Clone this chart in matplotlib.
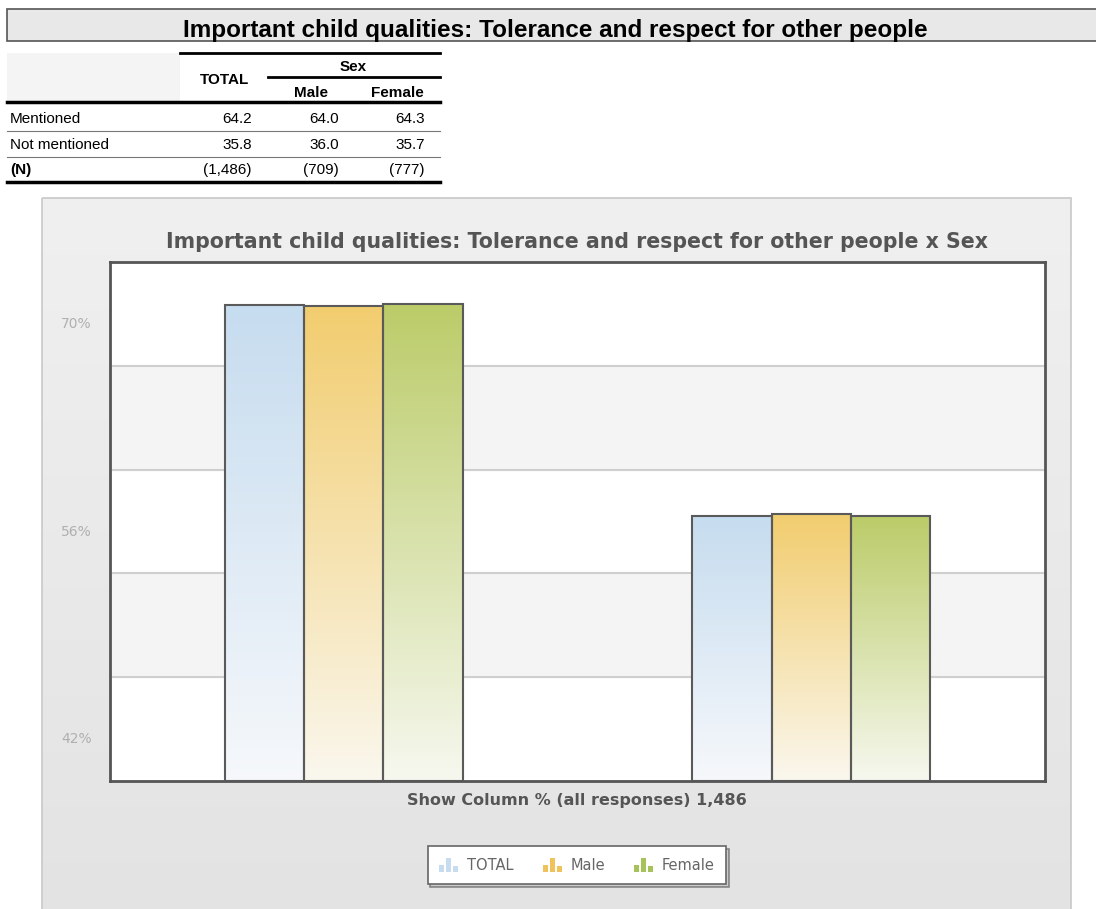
import numpy as np
import matplotlib.pyplot as plt
from matplotlib.patches import Rectangle, Patch
from matplotlib.colors import LinearSegmentedColormap
from matplotlib.legend_handler import HandlerBase

plt.rcParams['font.family'] = ['DejaVu Sans']

# table / chart data
title = 'Important child qualities: Tolerance and respect for other people'
chart_title = title + ' x Sex'
row_labels = ['Mentioned', 'Not mentioned', '(N)']
col_labels = ['TOTAL', 'Male', 'Female']
total = [64.2, 35.8]
male = [64.0, 36.0]
female = [64.3, 35.7]
n_counts = ['(1,486)', '(709)', '(777)']

categories = ['Mentioned', 'Not mentioned']
series_names = ['TOTAL', 'Male', 'Female']
series_vals = [total, male, female]
top_colors = ['#c6dcef', '#f2cd6f', '#bbcc69']
bottom_colors = ['#f6f8fb', '#faf7ee', '#f6f8ef']
icon_colors = ['#c8dcf0', '#f0c25c', '#a6c35a']
grid_levels = [14, 28, 42, 56]
ylabel_pos = [61.9, 33.8, 5.8]
ylabel_text = ['70%', '56%', '42%']
xlabel = 'Show Column % (all responses) 1,486'


class BarIconHandler(HandlerBase):
    # little 3-bar chart icon, like the original legend
    def create_artists(self, legend, orig_handle, xdescent, ydescent, width, height, fontsize, trans):
        color = orig_handle.get_facecolor()
        bw = width / 3.8
        arts = []
        for k, h in enumerate([0.5, 1.0, 0.4]):
            arts.append(Rectangle((-xdescent + k * bw * 1.4, -ydescent), bw, height * h,
                                  facecolor=color, edgecolor='none', transform=trans))
        return arts


fig = plt.figure(figsize=(10.96, 9.09), dpi=100)
fig.patch.set_facecolor('white')

# full-figure overlay in pixel coords for the table and panel
bg = fig.add_axes([0, 0, 1, 1], zorder=0)
bg.set_xlim(0, 1096)
bg.set_ylim(909, 0)
bg.axis('off')

# title bar
bg.add_patch(Rectangle((7, 9), 1095, 32, facecolor='#e8e8e8', edgecolor='#555555', lw=1.2))
bg.text(555, 30, title, ha='center', va='center', fontsize=17.5, fontweight='bold',
        family=['Liberation Sans', 'DejaVu Sans'])

# crosstab table
tfont = ['Liberation Sans Narrow', 'Liberation Sans', 'DejaVu Sans']
bg.add_patch(Rectangle((7, 53), 173, 49, facecolor='#f4f4f4', edgecolor='none'))
bg.plot([180, 440], [53, 53], color='black', lw=2)
bg.plot([268, 440], [77, 77], color='black', lw=2)
bg.plot([7, 440], [102, 102], color='black', lw=2.5)
bg.plot([7, 440], [131, 131], color='#777777', lw=0.8)
bg.plot([7, 440], [157, 157], color='#777777', lw=0.8)
bg.plot([7, 440], [182, 182], color='black', lw=2.5)
bg.text(224, 80, 'TOTAL', ha='center', va='center', fontsize=11, fontweight='bold', family=tfont)
bg.text(353, 67, 'Sex', ha='center', va='center', fontsize=11, fontweight='bold', family=tfont)
bg.text(311, 93, 'Male', ha='center', va='center', fontsize=11, fontweight='bold', family=tfont)
bg.text(397, 93, 'Female', ha='center', va='center', fontsize=11, fontweight='bold', family=tfont)
row_y = [119, 145, 170]
col_x = [252, 339, 425]
for r, lab in enumerate(row_labels):
    bg.text(10, row_y[r], lab, ha='left', va='center', fontsize=11, family=tfont,
            fontweight='bold' if lab == '(N)' else 'normal')
for c, vals in enumerate(series_vals):
    for r, v in enumerate(vals):
        bg.text(col_x[c], row_y[r], f'{v:.1f}', ha='right', va='center', fontsize=11, family=tfont)
    bg.text(col_x[c], row_y[2], n_counts[c], ha='right', va='center', fontsize=11, family=tfont)

# chart panel with soft vertical gradient
panel_cmap = LinearSegmentedColormap.from_list('panel', ['#f0f0f0', '#e3e3e3'])
bg.imshow(np.linspace(0, 1, 256).reshape(-1, 1), extent=(42, 1071, 918, 198), origin='upper',
          aspect='auto', cmap=panel_cmap, zorder=0)
bg.add_patch(Rectangle((42, 198), 1029, 720, facecolor='none', edgecolor='#c8c8c8', lw=1.2, zorder=1))
bg.set_xlim(0, 1096)
bg.set_ylim(909, 0)
bg.text(577, 242, chart_title, ha='center', va='center', fontsize=14.8, fontweight='bold', color='#555555')
bg.text(577, 800, xlabel, ha='center', va='center', fontsize=11.5, fontweight='bold', color='#555555')

# bar chart
ax = fig.add_axes([110 / 1096, 1 - 781 / 909, 935 / 1096, 519 / 909], zorder=1)
ax.set_facecolor('white')
ymax = 70
for k, lo in enumerate([0] + grid_levels):
    if k % 2 == 1:
        ax.axhspan(lo, lo + 14, color='#f4f4f4', zorder=0)
for g in grid_levels:
    ax.axhline(g, color='#cfcfcf', lw=1.5, zorder=1)

x = np.arange(len(categories))
width = 0.17
grad = np.linspace(0, 1, 256).reshape(-1, 1)
for i, vals in enumerate(series_vals):
    cmap = LinearSegmentedColormap.from_list(series_names[i], [bottom_colors[i], top_colors[i]])
    for j, v in enumerate(vals):
        x0 = x[j] + (i - 1) * width - width / 2
        ax.imshow(grad, extent=(x0, x0 + width, 0, v), origin='lower', aspect='auto',
                  cmap=cmap, zorder=2, interpolation='bicubic')
        ax.add_patch(Rectangle((x0, 0), width, v, facecolor='none', edgecolor='#5a5a5a', lw=1.5, zorder=3))

ax.set_xlim(-0.5, 1.5)
ax.set_ylim(0, ymax)
ax.set_xticks([])
ax.set_yticks(ylabel_pos)
ax.set_yticklabels(ylabel_text, color='#b0b0b0', fontsize=10)
ax.tick_params(axis='y', length=0, pad=13)
for s in ax.spines.values():
    s.set_color('#555555')
    s.set_linewidth(2)

handles = [Patch(facecolor=icon_colors[i], edgecolor='none', label=series_names[i]) for i in range(3)]
leg = ax.legend(handles=handles, loc='center', bbox_to_anchor=(577 / 1096, 1 - 865 / 909),
                bbox_transform=fig.transFigure, ncol=3, frameon=True, fancybox=False,
                shadow={'facecolor': '#bdbdbd', 'alpha': 0.6},
                fontsize=10.5, handlelength=1.3, handleheight=1.1, columnspacing=2.0,
                borderpad=0.8, handletextpad=0.6,
                handler_map={Patch: BarIconHandler()})
leg.get_frame().set_edgecolor('#666666')
leg.get_frame().set_linewidth(1.2)
for t in leg.get_texts():
    t.set_color('#666666')

fig.savefig('out.png', dpi=100)
